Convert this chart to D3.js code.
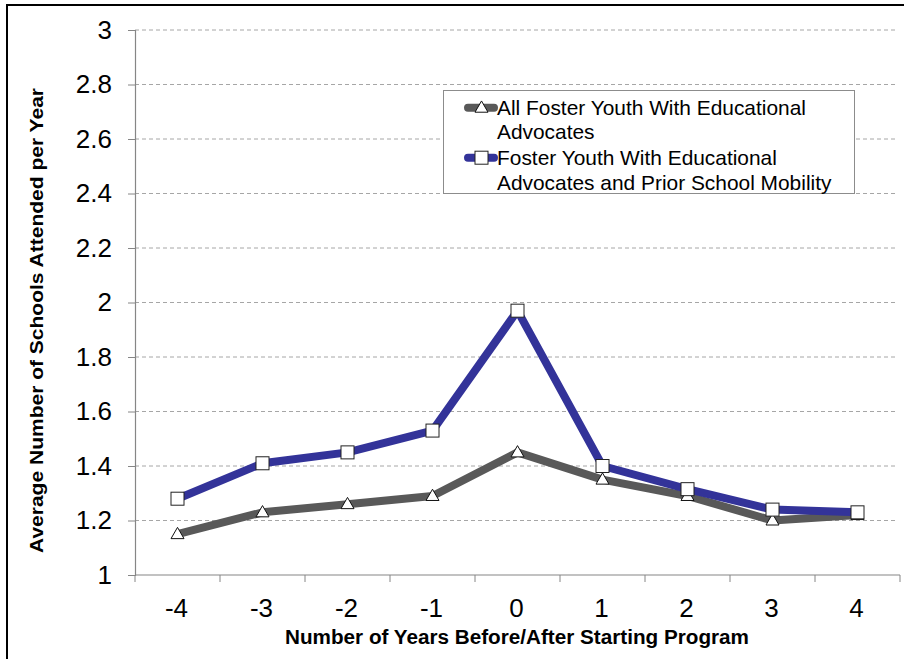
<!DOCTYPE html>
<html>
<head>
<meta charset="utf-8">
<script src="https://cdn.jsdelivr.net/npm/d3@7"></script>
<style>
  html, body { margin: 0; padding: 0; background: #fff; }
  svg { display: block; }
  text { font-family: "Liberation Sans", Arial, sans-serif; fill: #000; }
</style>
</head>
<body>
<svg id="chart" width="904" height="659"></svg>
<script>
// Years relative to program start
const years = ["-4", "-3", "-2", "-1", "0", "1", "2", "3", "4"];
// Average number of schools attended per year
const allYouth = [1.15, 1.23, 1.26, 1.29, 1.45, 1.35, 1.29, 1.20, 1.22];
const priorMobility = [1.28, 1.41, 1.45, 1.53, 1.97, 1.40, 1.315, 1.24, 1.23];
const yTicks = [1, 1.2, 1.4, 1.6, 1.8, 2, 2.2, 2.4, 2.6, 2.8, 3];
const seriesNames = [
  ["All Foster Youth With Educational", "Advocates"],
  ["Foster Youth With Educational", "Advocates and Prior School Mobility"]
];

const svg = d3.select("#chart");
const W = 904, H = 659;
const plot = { left: 135, right: 900, top: 30, bottom: 575 };

// outer frame
svg.append("rect")
  .attr("x", 7).attr("y", 5).attr("width", W + 10).attr("height", H + 10)
  .attr("fill", "none").attr("stroke", "#000").attr("stroke-width", 2);

const x = d3.scaleBand().domain(years).range([plot.left, plot.right]);
const y = d3.scaleLinear().domain([1, 3]).range([plot.bottom, plot.top]);

// horizontal dashed gridlines
svg.append("g").selectAll("line")
  .data(yTicks.filter(t => t > 1))
  .join("line")
  .attr("x1", plot.left).attr("x2", plot.right - 3)
  .attr("y1", d => y(d)).attr("y2", d => y(d))
  .attr("stroke", "#a6a6a6").attr("stroke-width", 1)
  .attr("stroke-dasharray", "4,3");

// y axis
const yAxis = svg.append("g")
  .attr("transform", `translate(${plot.left},0)`)
  .call(d3.axisLeft(y).tickValues(yTicks).tickFormat(d3.format("~g")).tickSize(7).tickPadding(16));
yAxis.select(".domain").attr("stroke", "#868686").attr("stroke-width", 1.2);
yAxis.selectAll(".tick line").attr("stroke", "#868686");
yAxis.selectAll("text").attr("font-size", 26).attr("fill", "#000")
  .attr("font-family", "Liberation Sans, Arial, sans-serif");

// x axis: ticks between categories
const xAxisG = svg.append("g").attr("transform", `translate(0,${plot.bottom})`);
xAxisG.append("line")
  .attr("x1", plot.left).attr("x2", plot.right)
  .attr("stroke", "#868686").attr("stroke-width", 1.2);
const bounds = years.map(d => x(d)).concat([x(years[years.length - 1]) + x.bandwidth()]);
xAxisG.selectAll(".xt").data(bounds).join("line")
  .attr("x1", d => d).attr("x2", d => d).attr("y1", 0).attr("y2", 7)
  .attr("stroke", "#868686");
xAxisG.selectAll(".xl").data(years).join("text")
  .attr("x", d => x(d) + x.bandwidth() / 2 - 1)
  .attr("y", 42)
  .attr("text-anchor", "middle")
  .attr("font-size", 26)
  .text(d => d);

// axis titles
svg.append("text")
  .attr("x", 517).attr("y", 644)
  .attr("text-anchor", "middle").attr("font-size", 20).attr("font-weight", "bold")
  .attr("textLength", 464).attr("lengthAdjust", "spacingAndGlyphs")
  .text("Number of Years Before/After Starting Program");
svg.append("text")
  .attr("transform", `translate(43,320.5) rotate(-90)`)
  .attr("text-anchor", "middle").attr("font-size", 18.5).attr("font-weight", "bold")
  .attr("textLength", 465).attr("lengthAdjust", "spacingAndGlyphs")
  .text("Average Number of Schools Attended per Year");

const line = d3.line()
  .x((d, i) => x(years[i]) + x.bandwidth() / 2)
  .y(d => y(d));

const series = [
  { values: allYouth, color: "#595959", marker: "triangle" },
  { values: priorMobility, color: "#333399", marker: "square" }
];

function drawMarker(g, kind, cx, cy) {
  if (kind === "square") {
    g.append("rect")
      .attr("x", cx - 6.5).attr("y", cy - 6.5).attr("width", 13).attr("height", 13)
      .attr("fill", "#fff").attr("stroke", "#222").attr("stroke-width", 1);
  } else {
    const s = 13;
    const h = s * Math.sqrt(3) / 2;
    g.append("path")
      .attr("d", `M${cx},${cy - h * 0.6}L${cx + s / 2},${cy + h * 0.4}L${cx - s / 2},${cy + h * 0.4}Z`)
      .attr("fill", "#fff").attr("stroke", "#111").attr("stroke-width", 1);
  }
}

series.forEach(s => {
  svg.append("path")
    .datum(s.values)
    .attr("d", line)
    .attr("fill", "none")
    .attr("stroke", s.color)
    .attr("stroke-width", 8)
    .attr("stroke-linejoin", "round");
});
series.forEach(s => {
  const g = svg.append("g");
  s.values.forEach((v, i) => drawMarker(g, s.marker, x(years[i]) + x.bandwidth() / 2, y(v)));
});

// legend
const lg = svg.append("g");
lg.append("rect")
  .attr("x", 443.5).attr("y", 90.5).attr("width", 411).attr("height", 103)
  .attr("fill", "#fff").attr("stroke", "#8c8c8c").attr("stroke-width", 1);
const legendRows = [107.7, 157.7];
const legendBaselines = [[114.5, 138.8], [164.8, 189.5]];
series.forEach((s, i) => {
  const cy = legendRows[i];
  lg.append("line")
    .attr("x1", 468).attr("x2", 494).attr("y1", cy).attr("y2", cy)
    .attr("stroke", s.color).attr("stroke-width", 8).attr("stroke-linecap", "round");
  drawMarker(lg, s.marker, 481.5, cy);
  seriesNames[i].forEach((t, j) => {
    lg.append("text")
      .attr("x", 497).attr("y", legendBaselines[i][j])
      .attr("font-size", 20.9)
      .text(t);
  });
});
</script>
</body>
</html>
